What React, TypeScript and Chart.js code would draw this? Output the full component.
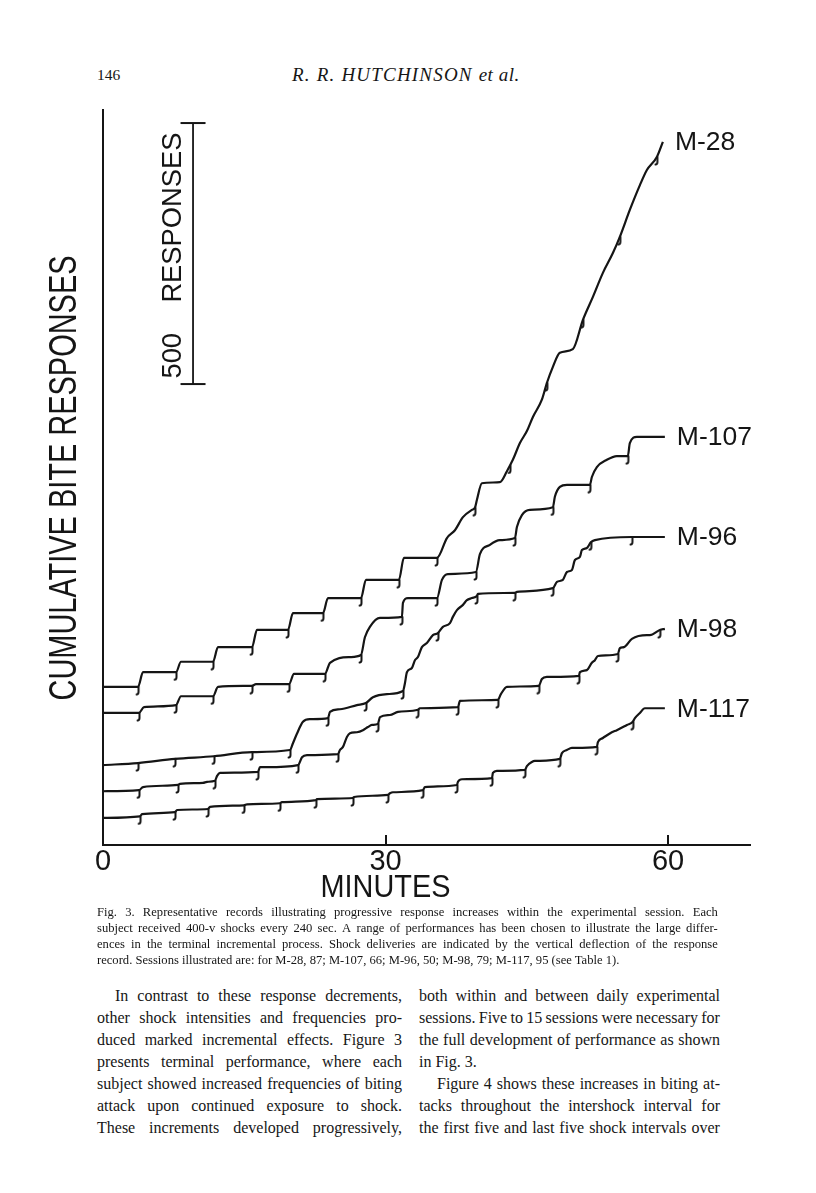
import React, { useEffect, useRef } from 'react';
import { Chart, registerables } from 'chart.js';

Chart.register(...registerables);

// ---------- data (minutes, cumulative responses) ----------
const M28_POINTS: [number, number][] = [
  [0, 307], [3.72, 307], [4.25, 335], [7.75, 335], [8.28, 355], [11.68, 355], [12.21, 383],
  [15.82, 383], [16.35, 416], [19.64, 416], [20.17, 448], [23.35, 448], [23.89, 477],
  [27.39, 477], [27.92, 512], [31.42, 512], [31.95, 554], [35.46, 554], [36.52, 592],
  [37.37, 607], [38.22, 632], [39.17, 646], [39.49, 650], [39.7, 665], [40.23, 697],
  [42.14, 699], [42.89, 720], [43.21, 731], [43.52, 742], [44.27, 774], [45.01, 797],
  [45.65, 824], [46.6, 857], [47.13, 889], [47.77, 920], [48.51, 947], [49.89, 954],
  [50.96, 1010], [52.02, 1054], [53.08, 1100], [54.14, 1138], [54.88, 1169], [55.95, 1221],
  [57.01, 1268], [57.75, 1297], [58.81, 1322], [59.45, 1351],
];
const M28_SHOCKS = [3.72, 7.75, 11.68, 15.82, 19.64, 23.35, 27.39, 31.42, 35.46, 39.49, 43.21, 47.13, 50.96, 54.88, 58.81];

const M107_POINTS: [number, number][] = [
  [0, 257], [3.82, 257], [4.35, 268], [7.75, 272], [8.28, 289], [11.68, 289], [12.21, 307],
  [15.82, 309], [16.24, 312], [19.75, 312], [20.28, 332], [23.57, 332], [24.1, 353],
  [26.22, 364], [27.39, 368], [27.81, 402], [28.34, 422], [29.41, 439], [31.74, 441],
  [31.85, 468], [32.38, 477], [35.46, 477], [35.99, 512], [36.62, 523], [39.6, 527],
  [40.02, 561], [41.08, 579], [42.14, 588], [43.74, 592], [43.95, 613], [44.48, 636],
  [45.33, 646], [47.77, 651], [47.98, 671], [48.51, 690], [49.26, 694], [51.7, 694],
  [51.91, 709], [52.44, 728], [53.5, 742], [54.56, 749], [55.73, 749], [55.94, 774],
  [56.69, 786], [59.66, 786],
];
const M107_SHOCKS = [3.82, 7.75, 11.68, 15.82, 19.75, 23.57, 27.39, 31.74, 35.46, 39.6, 43.74, 47.77, 51.7, 55.73];

const M96_POINTS: [number, number][] = [
  [0, 157], [3.72, 161], [7.64, 169], [11.78, 174], [15.82, 182], [19.85, 186], [20.17, 199],
  [20.59, 217], [21.23, 240], [21.97, 245], [23.89, 247], [24.1, 259], [25.16, 264],
  [26.96, 272], [27.92, 276], [28.66, 287], [30.15, 293], [31.85, 299], [32.06, 314],
  [32.27, 335], [32.8, 343], [33.12, 358], [33.44, 364], [33.86, 383], [34.39, 391],
  [35.03, 406], [35.56, 410], [36.09, 422], [36.84, 429], [37.15, 441], [37.58, 454],
  [38.22, 464], [38.64, 473], [39.17, 477], [39.7, 481], [39.81, 485], [43.74, 487],
  [43.95, 489], [47.77, 496], [48.2, 508], [48.83, 512], [49.26, 527], [49.79, 531],
  [50.11, 550], [50.64, 556], [50.85, 569], [51.38, 573], [51.8, 584], [52.23, 588],
  [56.16, 594], [59.66, 594],
];
const M96_SHOCKS = [3.72, 7.64, 11.78, 15.82, 19.85, 23.89, 27.92, 31.85, 35.56, 39.7, 43.74, 47.77, 51.8, 56.16];

const M98_POINTS: [number, number][] = [
  [0, 107], [3.82, 109], [4.25, 115], [7.96, 119], [8.17, 121], [10.62, 123], [11.04, 125],
  [11.89, 127], [12.1, 136], [12.42, 142], [16.45, 144], [16.67, 153], [17.41, 153],
  [20.7, 157], [21.13, 172], [21.66, 176], [24.95, 178], [25.16, 186], [25.48, 192],
  [25.9, 211], [26.22, 218], [26.96, 220], [27.6, 224], [28.13, 230], [28.56, 234],
  [29.19, 236], [29.41, 249], [30.47, 253], [31.32, 259], [33.44, 263], [33.65, 266],
  [37.69, 268], [37.9, 280], [41.93, 282], [42.25, 293], [42.89, 307], [46.28, 309],
  [46.6, 322], [47.13, 326], [50.53, 328], [50.64, 335], [51.38, 339], [51.91, 353],
  [52.23, 358], [52.55, 366], [54.67, 370], [54.88, 381], [55.31, 383], [56.16, 399],
  [57.75, 406], [58.07, 406], [59.13, 416], [59.66, 418],
];
const M98_SHOCKS = [3.82, 7.96, 11.89, 16.45, 20.7, 24.95, 29.19, 33.44, 37.69, 41.93, 46.28, 50.53, 54.67, 59.13];

const M117_POINTS: [number, number][] = [
  [0, 56], [3.93, 59], [4.14, 63], [7.64, 67], [7.86, 71], [11.15, 73], [11.36, 77],
  [14.97, 80], [15.29, 82], [18.79, 84], [19.0, 86], [22.61, 90], [22.72, 92], [26.54, 94],
  [26.65, 96], [30.25, 100], [30.47, 103], [30.79, 105], [33.97, 109], [34.18, 115],
  [37.58, 119], [37.69, 125], [38.11, 130], [41.3, 132], [41.4, 142], [41.83, 146],
  [44.8, 148], [45.01, 155], [45.54, 163], [45.86, 165], [48.51, 169], [48.73, 180],
  [49.26, 186], [49.79, 190], [52.44, 192], [52.55, 201], [53.08, 209], [54.03, 220],
  [54.56, 224], [55.63, 234], [56.26, 240], [56.48, 247], [57.01, 257], [57.54, 266],
  [59.66, 266],
];
const M117_SHOCKS = [3.93, 7.64, 11.15, 14.97, 18.79, 22.61, 26.54, 30.25, 33.97, 37.58, 41.3, 44.8, 48.51, 52.44, 56.26];

const SERIES_LABELS = ['M-28', 'M-107', 'M-96', 'M-98', 'M-117'];
const SERIES_POINTS = [M28_POINTS, M107_POINTS, M96_POINTS, M98_POINTS, M117_POINTS];
const SERIES_SHOCKS = [M28_SHOCKS, M107_SHOCKS, M96_SHOCKS, M98_SHOCKS, M117_SHOCKS];

const X_TICKS = [0, 30, 60];
const X_MAX = 68.7;
const Y_MIN = 4;
const Y_MAX = 1412;
const SCALE_BAR_MINUTE = 9.56;
const SCALE_BAR_RESPONSES = [887, 1387];
const SCALE_BAR_TEXT = '500    RESPONSES';
const Y_TITLE = 'CUMULATIVE BITE RESPONSES';
const X_TITLE = 'MINUTES';

// ---------- styles ----------
const INK = '#151515';
const SANS = '"Liberation Sans", Arial, Helvetica, sans-serif';
const SERIF = '"Liberation Serif", "Times New Roman", Times, serif';

function makePip(): HTMLCanvasElement {
  const c = document.createElement('canvas');
  c.width = 8;
  c.height = 18;
  const g = c.getContext('2d')!;
  g.strokeStyle = INK;
  g.lineWidth = 2;
  g.lineCap = 'round';
  g.beginPath();
  g.moveTo(4.5, 9);
  g.lineTo(4.5, 14);
  g.quadraticCurveTo(4.5, 16.3, 2.6, 16.6);
  g.stroke();
  return c;
}

function drawCondensed(ctx: CanvasRenderingContext2D, text: string, x: number, y: number,
  size: number, targetWidth: number, rotation: number) {
  ctx.save();
  ctx.translate(x, y);
  ctx.rotate(rotation);
  ctx.font = `${size}px ${SANS}`;
  const w = ctx.measureText(text).width;
  ctx.scale(targetWidth / w, 1);
  ctx.textAlign = 'center';
  ctx.textBaseline = 'middle';
  ctx.fillText(text, 0, 0);
  ctx.restore();
}

const overlayPlugin = {
  id: 'overlay',
  afterDatasetsDraw(chart: any) {
    const { ctx, chartArea, scales } = chart;
    const xs = scales.x;
    const ys = scales.y;
    ctx.save();
    ctx.fillStyle = INK;
    ctx.strokeStyle = INK;
    // inward tick marks
    ctx.lineWidth = 2;
    X_TICKS.filter((v) => v > 0).forEach((v) => {
      const px = Math.round(xs.getPixelForValue(v));
      ctx.beginPath();
      ctx.moveTo(px, chartArea.bottom);
      ctx.lineTo(px, chartArea.bottom - 10);
      ctx.stroke();
    });
    // series labels at end of each record
    ctx.font = `26.5px ${SANS}`;
    ctx.textAlign = 'left';
    ctx.textBaseline = 'middle';
    chart.data.datasets.forEach((ds: any, i: number) => {
      if (!ds.seriesLabel) return;
      const meta = chart.getDatasetMeta(i);
      const last = meta.data[meta.data.length - 1];
      ctx.fillText(ds.seriesLabel, last.x + 12, last.y + 1);
    });
    // scale bar text
    const barX = xs.getPixelForValue(SCALE_BAR_MINUTE);
    const barMid = (ys.getPixelForValue(SCALE_BAR_RESPONSES[0]) + ys.getPixelForValue(SCALE_BAR_RESPONSES[1])) / 2;
    drawCondensed(ctx, SCALE_BAR_TEXT, barX - 20, barMid + 2, 28, 246, -Math.PI / 2);
    // y title
    drawCondensed(ctx, Y_TITLE, 66, 478, 38, 445, -Math.PI / 2);
    // x title
    drawCondensed(ctx, X_TITLE, xs.getPixelForValue(30), 888, 32, 130, 0);
    ctx.restore();
  },
};

function ChartCanvas() {
  const ref = useRef<HTMLCanvasElement | null>(null);
  useEffect(() => {
    if (!ref.current) return;
    const pip = makePip();
    const datasets: any[] = SERIES_POINTS.map((pts, i) => ({
      seriesLabel: SERIES_LABELS[i],
      label: SERIES_LABELS[i],
      data: pts.map(([t, r]) => ({ x: t, y: r, s: SERIES_SHOCKS[i].includes(t) })),
      borderColor: INK,
      borderWidth: 2.2,
      cubicInterpolationMode: 'monotone',
      fill: false,
      pointStyle: (c: any) => (c.raw && c.raw.s ? pip : 'circle'),
      pointRadius: (c: any) => (c.raw && c.raw.s ? 1 : 0),
      pointHoverRadius: 0,
    }));
    datasets.push({
      label: 'scale',
      data: SCALE_BAR_RESPONSES.map((r) => ({ x: SCALE_BAR_MINUTE, y: r })),
      borderColor: INK,
      borderWidth: 1.8,
      pointStyle: 'line',
      pointRadius: 12.5,
      pointBorderWidth: 2,
      pointBorderColor: INK,
      pointHoverRadius: 0,
      tension: 0,
    });
    const chart = new Chart(ref.current, {
      type: 'line',
      data: { datasets },
      options: {
        responsive: false,
        animation: false,
        events: [],
        layout: { padding: { top: 110, right: 66, left: 0, bottom: 0 } },
        plugins: { legend: { display: false }, tooltip: { enabled: false } },
        scales: {
          x: {
            type: 'linear',
            min: 0,
            max: X_MAX,
            grid: { display: false, drawTicks: false },
            border: { display: true, color: INK, width: 2 },
            ticks: { color: INK, font: { family: SANS, size: 29 }, padding: 0, maxRotation: 0 },
            afterBuildTicks: (s: any) => { s.ticks = X_TICKS.map((v) => ({ value: v })); },
            afterFit: (s: any) => { s.height = 60; },
          },
          y: {
            type: 'linear',
            min: Y_MIN,
            max: Y_MAX,
            grid: { display: false, drawTicks: false },
            border: { display: true, color: INK, width: 2 },
            ticks: { display: false },
            afterFit: (s: any) => { s.width = 103; },
          },
        },
      } as any,
      plugins: [overlayPlugin],
    });
    return () => chart.destroy();
  }, []);
  return (
    <canvas ref={ref} width={816} height={905}
      style={{ position: 'absolute', left: 0, top: 0, width: 816, height: 905, display: 'block' }} />
  );
}

// ---------- page text ----------
const CAPTION_LINES = [
  'Fig. 3. Representative records illustrating progressive response increases within the experimental session. Each',
  'subject received 400-v shocks every 240 sec. A range of performances has been chosen to illustrate the large differ-',
  'ences in the terminal incremental process. Shock deliveries are indicated by the vertical deflection of the response',
  'record. Sessions illustrated are: for M-28, 87; M-107, 66; M-96, 50; M-98, 79; M-117, 95 (see Table 1).',
];
const LEFT_LINES = [
  'In contrast to these response decrements,',
  'other shock intensities and frequencies pro-',
  'duced marked incremental effects. Figure 3',
  'presents terminal performance, where each',
  'subject showed increased frequencies of biting',
  'attack upon continued exposure to shock.',
  'These increments developed progressively,',
];
const RIGHT_LINES = [
  'both within and between daily experimental',
  'sessions. Five to 15 sessions were necessary for',
  'the full development of performance as shown',
  'in Fig. 3.',
  'Figure 4 shows these increases in biting at-',
  'tacks throughout the intershock interval for',
  'the first five and last five shock intervals over',
];

function JLine({ text, left, top, width, justify, indent, size, lh }: any) {
  const words = text.split(' ');
  return (
    <div style={{
      position: 'absolute', left: left + (indent || 0), top, width: width - (indent || 0),
      height: lh, lineHeight: `${lh}px`, fontFamily: SERIF, fontSize: size, color: '#161616',
      display: 'flex', justifyContent: justify ? 'space-between' : 'flex-start', whiteSpace: 'pre',
    }}>
      {justify ? words.map((w: string, i: number) => <span key={i}>{w}</span>) : <span>{text}</span>}
    </div>
  );
}

export default function App() {
  return (
    <div style={{ position: 'relative', width: 816, height: 1193, margin: -8, background: '#fff' }}>
      <div style={{ position: 'absolute', left: 97, top: 65, fontFamily: SERIF, fontSize: 15.5, color: '#161616', lineHeight: '20px' }}>146</div>
      <div style={{ position: 'absolute', left: 292, top: 64, fontFamily: SERIF, fontSize: 19, fontStyle: 'italic', letterSpacing: 1.2, color: '#161616', lineHeight: '22px' }}>R. R. HUTCHINSON <span style={{ letterSpacing: 0.5 }}>et al.</span></div>
      <ChartCanvas />
      {CAPTION_LINES.map((t, i) => (
        <JLine key={'c' + i} text={t} left={97} top={904 + i * 16} width={621} justify={i < 3} size={12.6} lh={16} />
      ))}
      {LEFT_LINES.map((t, i) => (
        <JLine key={'l' + i} text={t} left={97} top={985 + i * 22} width={305} justify indent={i === 0 ? 18 : 0} size={16} lh={22} />
      ))}
      {RIGHT_LINES.map((t, i) => (
        <JLine key={'r' + i} text={t} left={419} top={985 + i * 22} width={301} justify={i !== 3} indent={i === 4 ? 18 : 0} size={16} lh={22} />
      ))}
    </div>
  );
}
